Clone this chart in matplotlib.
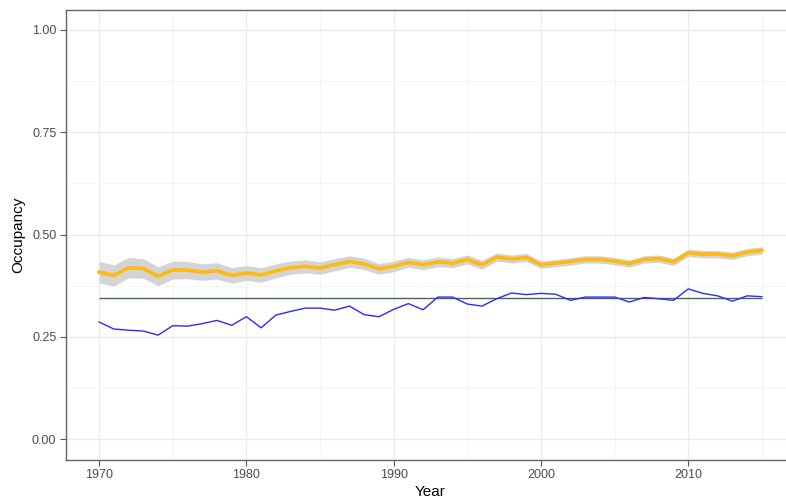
import matplotlib
matplotlib.use("Agg")
import matplotlib.pyplot as plt
from matplotlib.ticker import MultipleLocator

plt.rcParams['font.family'] = ['Liberation Sans', 'DejaVu Sans']

years = list(range(1970, 2016))

# fitted occupancy (orange) and its ribbon half-width
occ_fit = [0.408, 0.400, 0.419, 0.417, 0.398, 0.413, 0.413, 0.408, 0.411, 0.400,
           0.406, 0.401, 0.411, 0.419, 0.422, 0.418, 0.426, 0.434, 0.428, 0.416,
           0.422, 0.432, 0.426, 0.433, 0.430, 0.439, 0.426, 0.445, 0.440, 0.444,
           0.426, 0.430, 0.434, 0.439, 0.439, 0.435, 0.429, 0.439, 0.441, 0.433,
           0.455, 0.452, 0.452, 0.448, 0.457, 0.461]
occ_se = [0.026, 0.026, 0.025, 0.024, 0.023, 0.022, 0.021, 0.020, 0.020, 0.019,
          0.018, 0.018, 0.017, 0.016, 0.016, 0.015, 0.015, 0.014, 0.014, 0.013,
          0.013, 0.012, 0.012, 0.012, 0.011, 0.011, 0.011, 0.010, 0.010, 0.010,
          0.009, 0.009, 0.009, 0.009, 0.009, 0.009, 0.009, 0.009, 0.009, 0.009,
          0.009, 0.009, 0.009, 0.009, 0.009, 0.009]

# naive occupancy (blue)
occ_naive = [0.286, 0.269, 0.266, 0.264, 0.254, 0.277, 0.276, 0.282, 0.290, 0.278,
             0.299, 0.272, 0.303, 0.312, 0.320, 0.320, 0.315, 0.325, 0.304, 0.299,
             0.317, 0.331, 0.316, 0.347, 0.347, 0.330, 0.325, 0.343, 0.357, 0.353,
             0.356, 0.354, 0.339, 0.347, 0.347, 0.347, 0.335, 0.346, 0.343, 0.339,
             0.367, 0.356, 0.350, 0.337, 0.350, 0.348]

mean_naive = 0.344

lower = [f - s for f, s in zip(occ_fit, occ_se)]
upper = [f + s for f, s in zip(occ_fit, occ_se)]

fig = plt.figure(figsize=(7.86, 5.0), dpi=100)
ax = fig.add_axes([66 / 786, 1 - 459.5 / 500, (795 - 66) / 786, 450 / 500])

ax.fill_between(years, lower, upper, color="#d4d4d4", lw=0, zorder=2)
ax.plot(years, occ_fit, color="#FFB90F", lw=2.6, zorder=3)
ax.hlines(mean_naive, years[0], years[-1], color="#4a6360", lw=1.0, zorder=3)
ax.plot(years, occ_naive, color="#2b2bff", lw=1.0, zorder=4)

ax.set_xlim(1967.75, 2017.25)
ax.set_ylim(-0.05, 1.05)
ax.set_xticks([1970, 1980, 1990, 2000, 2010])
ax.set_yticks([0.0, 0.25, 0.5, 0.75, 1.0])
ax.set_yticklabels(["0.00", "0.25", "0.50", "0.75", "1.00"])
ax.xaxis.set_minor_locator(MultipleLocator(5))
ax.yaxis.set_minor_locator(MultipleLocator(0.125))

ax.grid(which="major", color="#ebebeb", lw=1.0, zorder=0)
ax.grid(which="minor", color="#f4f4f4", lw=0.6, zorder=0)
ax.set_axisbelow(True)

for side in ax.spines.values():
    side.set_color("#666666")
    side.set_linewidth(1.0)

ax.tick_params(which="major", length=4, color="#555555", labelcolor="#4d4d4d",
               labelsize=9, pad=3)
ax.tick_params(which="minor", length=0)

ax.set_xlabel("Year", fontsize=11, color="black", labelpad=3)
ax.set_ylabel("Occupancy", fontsize=11, color="black", labelpad=5)

fig.savefig("out.png", dpi=100)
